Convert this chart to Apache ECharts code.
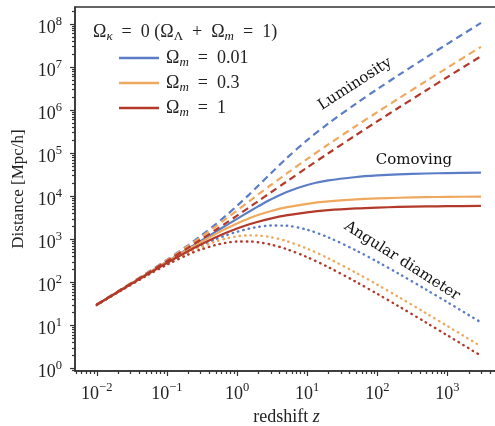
<!DOCTYPE html>
<html>
<head>
<meta charset="utf-8">
<script src="https://cdn.jsdelivr.net/npm/echarts@6/dist/echarts.min.js"></script>
<style>
  html, body { margin: 0; padding: 0; background: #fff; }
  #main { width: 495px; height: 426px; }
</style>
</head>
<body>
<div id="main"></div>
<script>
// redshift samples
const redshift = [0.01, 0.02, 0.05, 0.1, 0.2, 0.3, 0.5, 0.7, 1, 1.5, 2, 3, 5, 10, 20, 50, 100, 200, 500, 1000, 3000];

// comoving distance [Mpc/h]
const comoving001 = [30.0, 59.9, 149.9, 299.6, 598.7, 897.4, 1491, 2082, 2958, 4384, 5753, 8267, 12284, 18094, 23006, 27685, 30114, 31851, 33402, 34185, 34986];
const comoving03 = [29.9, 59.7, 148.2, 292.9, 571.7, 836.1, 1322, 1754, 2313, 3055, 3626, 4449, 5443, 6607, 7520, 8375, 8819, 9136, 9419, 9562, 9709];
const comoving1 = [29.8, 59.1, 144.5, 279.0, 522.4, 737.2, 1100, 1397, 1756, 2204, 2534, 2998, 3548, 4188, 4688, 5156, 5399, 5573, 5728, 5806, 5886];

// luminosity distance [Mpc/h]
const luminosity001 = [30.3, 61.1, 157.4, 329.6, 718.4, 1167, 2237, 3539, 5916, 10960, 17260, 33070, 73700, 199000, 483100, 1412000, 3042000, 6402000, 16730000, 34220000, 105000000];
const luminosity03 = [30.2, 60.9, 155.6, 322.2, 686.0, 1087, 1983, 2982, 4626, 7638, 10880, 17800, 32660, 72680, 157900, 427100, 890700, 1836000, 4719000, 9572000, 29140000];
const luminosity1 = [30.1, 60.3, 151.7, 306.9, 626.9, 958.4, 1650, 2375, 3512, 5510, 7602, 11990, 21290, 46070, 98440, 263000, 545300, 1120000, 2870000, 5812000, 17660000];

// angular diameter distance [Mpc/h]
const angular001 = [29.7, 58.7, 142.8, 272.4, 498.9, 690.3, 994, 1225, 1479, 1754, 1918, 2067, 2047, 1645, 1096, 542.8, 298.2, 158.5, 66.7, 34.15, 11.66];
const angular03 = [29.6, 58.5, 141.1, 266.3, 476.4, 643.2, 881.3, 1032, 1157, 1222, 1209, 1112, 907.2, 600.6, 358.1, 164.2, 87.3, 45.45, 18.80, 9.55, 3.24];
const angular1 = [29.5, 57.9, 137.6, 253.6, 435.3, 567.1, 733.5, 821.9, 878.1, 881.5, 844.7, 749.5, 591.3, 380.7, 223.2, 101.1, 53.46, 27.73, 11.43, 5.80, 1.96];

const modelNames = ['0.01', '0.3', '1'];
const colors = ['#5b7dc6', '#efa95f', '#b3392a'];

const X_MIN = Math.pow(10, -2.31);
const X_MAX = Math.pow(10, 3.72);
const Y_MIN = Math.pow(10, -0.063);
const Y_MAX = Math.pow(10, 8.39);

const serif = '"Liberation Serif", "DejaVu Serif", serif';
const annoFont = '15px "DejaVu Serif", serif';
const EN = '\u2002'; // wider gaps round = and + like in math mode

const pairs = arr => redshift.map((z, i) => [z, arr[i]]);

// 10^n as rich text
function powLabel(v) {
  const e = Math.log10(v);
  if (Math.abs(e - Math.round(e)) > 1e-6) return '';
  const n = Math.round(e);
  return '{b|10}{e|' + (n < 0 ? '\u2212' + (-n) : n) + '}';
}
const powRich = {
  b: { fontFamily: serif, fontSize: 18, color: '#222', lineHeight: 22, verticalAlign: 'bottom' },
  e: { fontFamily: serif, fontSize: 12.5, color: '#222', lineHeight: 12, verticalAlign: 'top' }
};
const omegaRich = {
  t: { fontFamily: serif, fontSize: 18, fontWeight: 'normal', color: '#222', lineHeight: 22 },
  s: { fontFamily: serif, fontSize: 13, fontWeight: 'normal', fontStyle: 'italic', color: '#222', lineHeight: 12, verticalAlign: 'bottom' },
  u: { fontFamily: serif, fontSize: 13, fontWeight: 'normal', color: '#222', lineHeight: 12, verticalAlign: 'bottom' }
};

function lineSeries(name, arr, color, kind) {
  const style = { color: color, width: 2.2 };
  if (kind === 'dashed') { style.type = [7, 4.5]; }
  if (kind === 'dotted') { style.type = [0.5, 5]; style.cap = 'round'; style.width = 2.4; }
  return {
    name: name,
    type: 'line',
    data: pairs(arr),
    symbol: 'none',
    showSymbol: false,
    smooth: 0.3,
    lineStyle: style,
    itemStyle: { color: color },
    emphasis: { disabled: true },
    silent: true
  };
}

const chartDom = document.getElementById('main');
const myChart = echarts.init(chartDom, null, { renderer: 'canvas' });

const groups = [
  [comoving001, luminosity001, angular001],
  [comoving03, luminosity03, angular03],
  [comoving1, luminosity1, angular1]
];
const series = [];
groups.forEach((g, i) => {
  const nm = '{t|\u03a9}{s|m}{t|' + EN + '=' + EN + modelNames[i] + '}';
  series.push(lineSeries(nm, g[0], colors[i], 'solid'));
  series.push(lineSeries('L' + i, g[1], colors[i], 'dashed'));
  series.push(lineSeries('A' + i, g[2], colors[i], 'dotted'));
});

const option = {
  animation: false,
  backgroundColor: '#fff',
  title: {
    text: '{t|\u03a9}{s|\u03ba}{t|' + EN + '=' + EN + '0 (\u03a9}{u|\u039b}{t|' + EN + '+' + EN + '\u03a9}{s|m}{t|' + EN + '=' + EN + '1)}',
    left: 88,
    top: 16,
    textStyle: { fontWeight: 'normal', rich: omegaRich }
  },
  legend: {
    data: series.filter((s, i) => i % 3 === 0).map(s => s.name),
    orient: 'vertical',
    left: 114,
    top: 44,
    icon: 'rect',
    itemWidth: 40,
    itemHeight: 2.6,
    itemGap: 5,
    selectedMode: false,
    textStyle: { rich: omegaRich, padding: [0, 0, 0, 2] }
  },
  grid: {
    left: 75,
    right: -3,
    top: 7,
    bottom: 55,
    outerBoundsMode: 'none',
    show: true,
    borderColor: '#333',
    borderWidth: 1.5,
    backgroundColor: 'transparent'
  },
  xAxis: {
    type: 'log',
    min: X_MIN,
    max: X_MAX,
    name: 'redshift {i|z}',
    nameLocation: 'middle',
    nameGap: 31,
    nameTextStyle: {
      fontFamily: serif, fontSize: 18, color: '#222',
      rich: { i: { fontFamily: serif, fontSize: 18, fontStyle: 'italic', color: '#222' } }
    },
    axisLine: { lineStyle: { color: '#333', width: 1.5 } },
    axisTick: { show: false },
    splitLine: { show: false },
    axisLabel: { margin: 10, formatter: powLabel, rich: powRich }
  },
  yAxis: {
    type: 'log',
    min: Y_MIN,
    max: Y_MAX,
    name: 'Distance [Mpc/h]',
    nameLocation: 'middle',
    nameGap: 44,
    nameTextStyle: { fontFamily: serif, fontSize: 17, color: '#222' },
    axisLine: { lineStyle: { color: '#333', width: 1.5 } },
    axisTick: { show: false },
    splitLine: { show: false },
    axisLabel: { margin: 13, padding: [4, 0, 0, 0], formatter: powLabel, rich: powRich }
  },
  series: series
};
myChart.setOption(option);

// log ticks (major + minor) placed through the axis scales
const graphics = [];
const x0 = myChart.convertToPixel({ xAxisIndex: 0 }, X_MIN);
const y0 = myChart.convertToPixel({ yAxisIndex: 0 }, Y_MIN);
for (let n = -3; n <= 8; n++) {
  for (let k = 1; k <= 9; k++) {
    const v = k * Math.pow(10, n);
    const len = k === 1 ? 5 : 3;
    if (v >= X_MIN && v <= X_MAX) {
      const px = Math.round(myChart.convertToPixel({ xAxisIndex: 0 }, v)) + 0.5;
      graphics.push({ type: 'line', silent: true, shape: { x1: px, y1: y0, x2: px, y2: y0 + len }, style: { stroke: '#333', lineWidth: 1.2 } });
    }
    if (v >= Y_MIN && v <= Y_MAX) {
      const py = Math.round(myChart.convertToPixel({ yAxisIndex: 0 }, v)) + 0.5;
      graphics.push({ type: 'line', silent: true, shape: { x1: x0, y1: py, x2: x0 - len, y2: py }, style: { stroke: '#333', lineWidth: 1.2 } });
    }
  }
}

// curve annotations
graphics.push({ type: 'text', x: 355, y: 84, rotation: 33 * Math.PI / 180, silent: true,
  style: { text: 'Luminosity', font: annoFont, fill: '#111', align: 'center', verticalAlign: 'middle' } });
graphics.push({ type: 'text', x: 414, y: 160, silent: true,
  style: { text: 'Comoving', font: annoFont, fill: '#111', align: 'center', verticalAlign: 'middle' } });
graphics.push({ type: 'text', x: 402, y: 261, rotation: -32.5 * Math.PI / 180, silent: true,
  style: { text: 'Angular diameter', font: annoFont, fill: '#111', align: 'center', verticalAlign: 'middle' } });

myChart.setOption({ graphic: graphics });
</script>
</body>
</html>
